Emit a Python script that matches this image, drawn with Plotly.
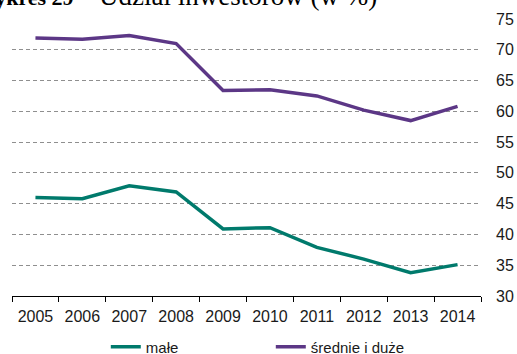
import plotly.graph_objects as go

years = ["2005", "2006", "2007", "2008", "2009", "2010", "2011", "2012", "2013", "2014"]
male = [46.0, 45.8, 47.9, 46.9, 40.9, 41.1, 37.9, 36.0, 33.8, 35.1]
srednie_duze = [71.9, 71.7, 72.3, 71.0, 63.4, 63.5, 62.5, 60.2, 58.5, 60.8]
y_ticks = [30, 35, 40, 45, 50, 55, 60, 65, 70, 75]

teal = "#007A6C"
purple = "#5C3786"
font_family = "Liberation Sans, Arial, sans-serif"
serif = "Liberation Serif, Times New Roman, serif"

fig = go.Figure()
fig.add_trace(go.Scatter(x=years, y=male, mode="lines", name="małe",
                         line=dict(color=teal, width=3.5)))
fig.add_trace(go.Scatter(x=years, y=srednie_duze, mode="lines", name="średnie i duże",
                         line=dict(color=purple, width=3.5)))

fig.update_layout(
    width=517, height=354,
    margin=dict(l=12, r=36, t=19, b=58, autoexpand=False),
    paper_bgcolor="white", plot_bgcolor="white",
    font=dict(family=font_family, size=16, color="#1a1a1a"),
    showlegend=True,
    legend=dict(orientation="h", x=0.2, xanchor="left", y=-0.184, yanchor="middle",
                entrywidth=120, entrywidthmode="pixels",
                font=dict(size=15), itemwidth=30, tracegroupgap=0),
    xaxis=dict(type="category", range=[-0.5, 9.5], showgrid=False, showline=True,
               linecolor="black", linewidth=1.3, ticks="outside", tickson="boundaries",
               ticklen=5, tickcolor="black", tickwidth=1.3, ticklabelstandoff=6,
               tickangle=0, automargin=False, tickfont=dict(size=16)),
    yaxis=dict(side="right", range=[30, 75], tickvals=y_ticks, showline=False,
               showgrid=True, gridcolor="#8f8f8f", gridwidth=1, griddash="4px,3px",
               zeroline=False, ticks="", ticklabelstandoff=14, automargin=False,
               tickfont=dict(size=16)),
)

fig.add_annotation(
    xref="paper", yref="paper", x=0.137, y=1.0, xanchor="right", yanchor="bottom",
    yshift=7, showarrow=False, text="<b>Wykres 29</b>",
    font=dict(family=serif, size=22, color="black"),
)
fig.add_annotation(
    xref="paper", yref="paper", x=0.1812, y=1.0, xanchor="left", yanchor="bottom",
    yshift=6, showarrow=False, text="Udział inwestorów (w %)",
    font=dict(family=serif, size=27, color="black"),
)

fig.write_html("out.html")
